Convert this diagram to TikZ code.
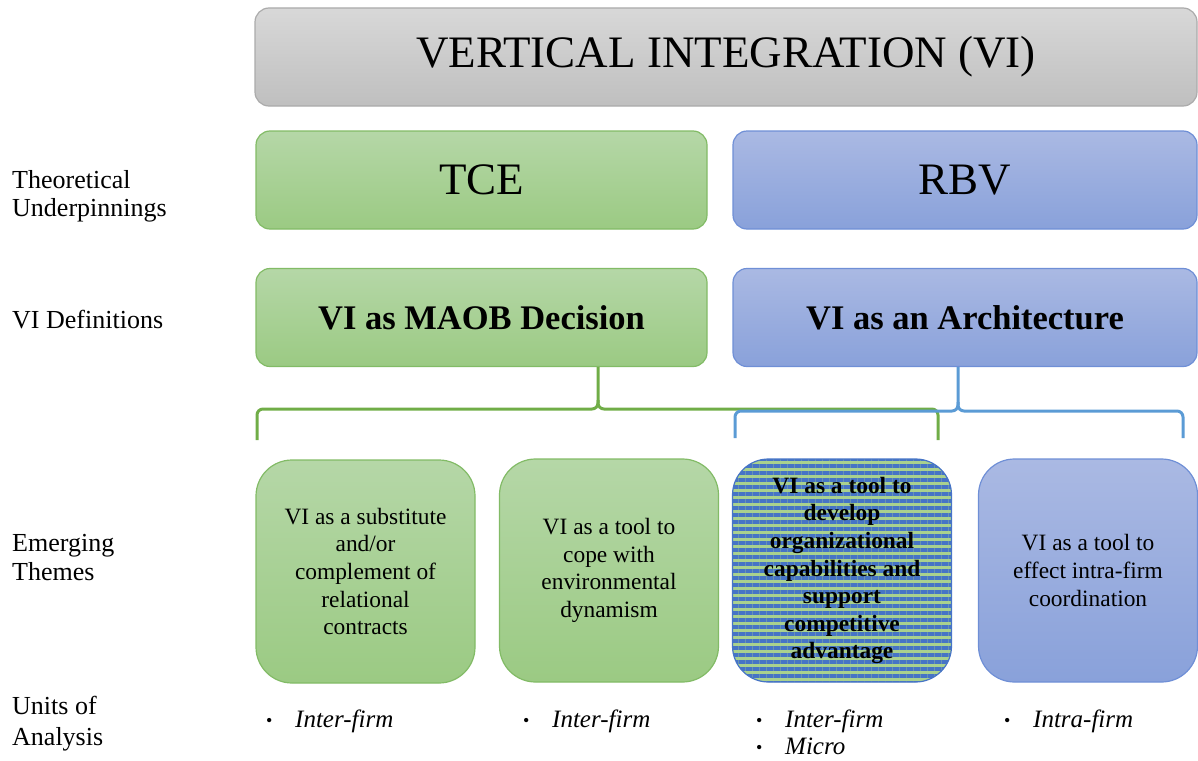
\documentclass[tikz,border=0pt]{standalone}
\usepackage{fontspec}
\setmainfont{Liberation Serif}
\usetikzlibrary{patterns.meta}

\definecolor{grayTop}{HTML}{D8D8D8}
\definecolor{grayBot}{HTML}{BFBFBF}
\definecolor{grayLine}{HTML}{ABABAB}
\definecolor{greenTop}{HTML}{B5D7A7}
\definecolor{greenBot}{HTML}{9BCA83}
\definecolor{greenLine}{HTML}{82BB66}
\definecolor{blueTop}{HTML}{AAB9E3}
\definecolor{blueBot}{HTML}{89A1DA}
\definecolor{blueLine}{HTML}{6F8FD6}
\definecolor{braceGreen}{HTML}{70AD47}
\definecolor{braceBlue}{HTML}{5B9BD5}
\definecolor{stripeBlue}{HTML}{4674C6}
\definecolor{stripeGreen}{HTML}{A9D18E}

\begin{document}
\begin{tikzpicture}[x=1pt,y=-1pt,
  box/.style={draw, line width=1.2pt, inner sep=0pt, align=flush center},
  graybox/.style={box, draw=grayLine, top color=grayTop, bottom color=grayBot},
  greenbox/.style={box, draw=greenLine, top color=greenTop, bottom color=greenBot},
  bluebox/.style={box, draw=blueLine, top color=blueTop, bottom color=blueBot},
  stripebox/.style={box, draw=stripeBlue, preaction={fill=stripeGreen},
    pattern={Lines[angle=0, distance=7pt, line width=3.6pt]}, pattern color=stripeBlue},
  wide/.style={minimum height=98pt, rounded corners=14pt},
  theme/.style={minimum width=219pt, minimum height=223pt, rounded corners=36pt,
    text width=205pt, font=\fontsize{23.4}{27.6}\selectfont},
  bigtext/.style={font=\fontsize{45}{50}\selectfont},
  midtext/.style={font=\fontsize{34.5}{40}\selectfont\bfseries},
  sidelabel/.style={anchor=base west, inner sep=0pt, font=\fontsize{26}{29}\selectfont},
  unit/.style={anchor=base west, inner sep=0pt, font=\fontsize{25}{30}\selectfont},
  brace/.style={line width=3pt, rounded corners=6pt}
]
\useasboundingbox (0,0) rectangle (1198,760);

% top banner
\node[graybox, wide, minimum width=942pt, bigtext] (vi) at (726,57) {VERTICAL INTEGRATION (VI)};

% theoretical underpinnings
\node[greenbox, wide, minimum width=451pt, bigtext] (tce) at (481.5,180) {TCE};
\node[bluebox, wide, minimum width=464pt, bigtext] (rbv) at (965,180) {RBV};

% definitions
\node[greenbox, wide, minimum width=451pt, midtext] (maob) at (481.5,317.5) {VI as MAOB Decision};
\node[bluebox, wide, minimum width=464pt, midtext] (arch) at (965,317.5) {VI as an Architecture};

% emerging themes
\node[greenbox, theme] (th1) at (365.5,571.5) {VI as a substitute\\and/or\\complement of\\relational\\contracts};
\node[greenbox, theme] (th2) at (609,570.5) {VI as a tool to\\cope with\\environmental\\dynamism};
\node[stripebox, theme, font=\fontsize{23.4}{27.6}\selectfont\bfseries] (th3) at (842,570.5)
  {VI as a tool to\\develop\\organizational\\capabilities and\\support\\competitive\\advantage};
\node[bluebox, theme] (th4) at (1088,570.5) {VI as a tool to\\effect intra-firm\\coordination};

% braces joining definitions to themes
\coordinate (gstem) at (598,0);
\coordinate (gl) at (257,440);
\coordinate (gr) at (938,440);
\coordinate (bstem) at (958,0);
\coordinate (bl) at (735,438);
\coordinate (br) at (1183,438);
\draw[brace, braceGreen] (maob.south -| gstem) -- (598,409) -- (gl |- 0,409) -- (gl);
\draw[brace, braceGreen] (598,400) -- (598,409) -- (gr |- 0,409) -- (gr);
\draw[brace, braceBlue] (arch.south -| bstem) -- (958,411) -- (bl |- 0,411) -- (bl);
\draw[brace, braceBlue] (958,402) -- (958,411) -- (br |- 0,411) -- (br);

% row labels
\node[sidelabel] (lt1) at (12,188) {Theoretical};
\node[sidelabel] (lt2) at (12,216) {Underpinnings};
\node[sidelabel] (ld) at (12,328) {VI Definitions};
\node[sidelabel] (le1) at (12,551) {Emerging};
\node[sidelabel] (le2) at (12,580) {Themes};
\node[sidelabel] (lu1) at (12,714) {Units of};
\node[sidelabel] (lu2) at (12,745) {Analysis};

% units of analysis
\newcommand{\bulletitem}[1]{\makebox[29pt][l]{\fontsize{18}{20}\selectfont\raisebox{1pt}{•}}\textit{#1}}
\node[unit] (u1) at (266,727) {\bulletitem{Inter-firm}};
\node[unit] (u2) at (523,727) {\bulletitem{Inter-firm}};
\node[unit] (u3a) at (756,727) {\bulletitem{Inter-firm}};
\node[unit] (u3b) at (756,754) {\bulletitem{Micro}};
\node[unit] (u4) at (1004,727) {\bulletitem{Intra-firm}};
\end{tikzpicture}
\end{document}
